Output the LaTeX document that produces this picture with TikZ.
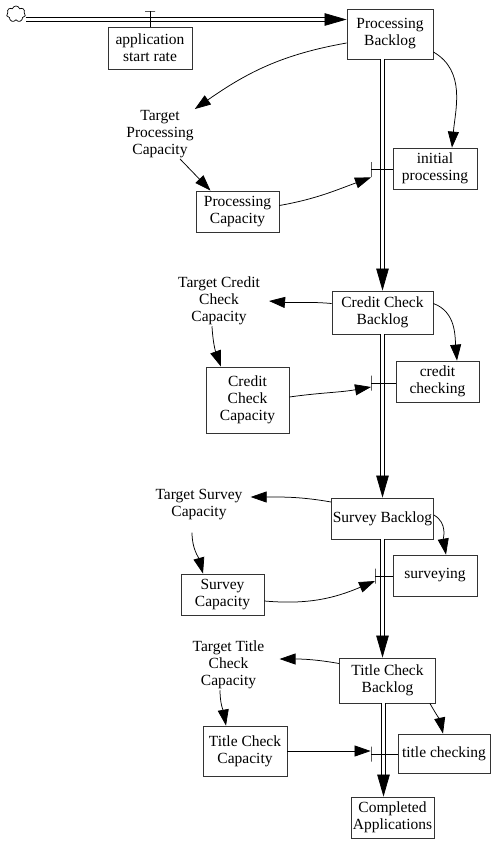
\documentclass[tikz,border=0pt]{standalone}
\usepackage{fontspec}
\setmainfont{Liberation Serif}
\usetikzlibrary{arrows.meta,shapes.symbols}

\begin{document}
\begin{tikzpicture}
      [x=1pt, y=1pt,
      box style/.style={draw=black!80, line width=0.8pt, rectangle, align=center, inner sep=1pt, minimum width=83pt, minimum height=41pt, font=\fontsize{15.5}{17}\selectfont},
      text style/.style={align=center, inner sep=1pt, font=\fontsize{15.5}{17}\selectfont},
      valve style/.style={draw, line width=0.8pt, inner sep=0pt, minimum width=0pt, minimum height=15pt},
      pipe style/.style={draw, double, double distance=3pt, line width=1pt},
      pipe tip/.style={-{Triangle[length=22pt, width=12.5pt]}, line width=0.7pt},
      link style/.style={draw, line width=0.75pt, -{Triangle[length=16pt, width=11pt]}},
      valve line/.style={draw, line width=0.75pt},
      ]
      \useasboundingbox (0,0) rectangle (491,-841);

      \node[cloud, cloud puffs=7, aspect=1.2, draw, line width=0.7pt, minimum width=19pt, minimum height=16pt, inner sep=0pt] (source) at (16,-14) {};
      \node[box style, minimum width=86pt, minimum height=50pt] (pb) at (390,-34) {Processing\\Backlog};
      \node[box style, minimum width=84pt, minimum height=42pt] (asr) at (150,-48) {application\\start rate};
      \node[valve style, minimum width=10pt, minimum height=0pt] (v0) at (150,-11) {};
      \node[text style] (tpc) at (160,-134) {Target\\Processing\\Capacity};
      \node[box style] (pc) at (237.5,-211.5) {Processing\\Capacity};
      \node[box style, minimum width=84pt] (ip) at (435,-168.5) {initial\\processing};
      \node[valve style] (v1) at (371,-169.5) {};

      \node[box style, minimum width=101pt, minimum height=43pt] (cc) at (382.5,-312.5) {Credit Check\\Backlog};
      \node[text style] (tcc) at (219,-301) {Target Credit\\Check\\Capacity};
      \node[box style, minimum height=66pt] (ccc) at (247.5,-400) {Credit\\Check\\Capacity};
      \node[box style] (cch) at (437.5,-381.5) {credit\\checking};
      \node[valve style] (v2) at (371,-383) {};

      \node[box style, minimum width=102pt] (sb) at (382.5,-518.5) {Survey Backlog};
      \node[text style] (tsc) at (199,-505) {Target Survey\\Capacity};
      \node[box style] (svc) at (222.5,-594.5) {Survey\\Capacity};
      \node[box style, minimum width=84pt] (sv) at (435,-575.5) {surveying};
      \node[valve style] (v3) at (375,-576) {};

      \node[box style, minimum width=96pt, minimum height=45pt] (tc) at (387.5,-680.5) {Title Check\\Backlog};
      \node[text style] (ttc) at (228.5,-665) {Target Title\\Check\\Capacity};
      \node[box style, minimum width=84pt, minimum height=50pt] (tcp) at (245,-751) {Title Check\\Capacity};
      \node[box style, minimum width=92pt, minimum height=39pt] (tch) at (444,-753.5) {title checking};
      \node[valve style] (v4) at (371,-754) {};
      \node[box style] (ca) at (392.5,-817.5) {Completed\\Applications};

      % stock flows
      \coordinate (inflow) at ([yshift=14.5pt]pb.west);
      \draw[pipe style, shorten >=12pt] (source.east |- inflow) -- (inflow);
      \draw[pipe tip] ([xshift=-22pt]inflow) -- (inflow);
      \draw[pipe style, shorten >=10pt] (pb.south -| cc.north) -- (cc.north);
      \draw[pipe tip] ([yshift=22pt]cc.north) -- (cc.north);
      \draw[pipe style, shorten >=10pt] (cc.south) -- (sb.north);
      \draw[pipe tip] ([yshift=22pt]sb.north) -- (sb.north);
      \draw[pipe style, shorten >=10pt] (sb.south) -- ([xshift=-5pt]tc.north);
      \draw[pipe tip] ([xshift=-5pt, yshift=22pt]tc.north) -- ([xshift=-5pt]tc.north);
      \draw[pipe style, shorten >=10pt] ([xshift=-4pt]tc.south) -- ([xshift=-9pt]ca.north);
      \draw[pipe tip] ([xshift=-9pt, yshift=22pt]ca.north) -- ([xshift=-9pt]ca.north);

      % valves
      \draw[valve line] (v0) -- (asr.north);
      \draw[valve line] (v1) -- (v1 -| ip.west);
      \draw[valve line] (v2) -- (v2 -| cch.west);
      \draw[valve line] (v3) -- (v3 -| sv.west);
      \draw[valve line] (v4) -- (v4 -| tch.west);

      % links
      \draw[link style] ([yshift=-9pt]pb.west) to[out=190, in=35] (tpc.north east);
      \draw[link style] ([xshift=20pt]tpc.south) -- ([xshift=-27pt]pc.north);
      \draw[link style] ([yshift=6pt]pc.east) to[out=10, in=200] (v1.south);
      \draw[link style] ([yshift=-18pt]pb.east) to[out=-30, in=85] ([xshift=17pt]ip.north);

      \draw[link style] ([yshift=9pt]cc.west) to[out=175, in=-5] ([xshift=8pt]tcc.east);
      \draw[link style] ([xshift=-7pt]tcc.south) to[out=-87, in=110] ([xshift=-26.5pt]ccc.north);
      \draw[link style] ([yshift=3pt]ccc.east) to[out=8, in=190] ([yshift=-4pt]v2.center);
      \draw[link style] ([yshift=9pt]cc.east) to[out=-20, in=95] ([xshift=19.5pt]cch.north);

      \draw[link style] ([yshift=16.5pt]sb.west) to[out=170, in=0] ([xshift=7pt, yshift=8pt]tsc.east);
      \draw[link style] ([xshift=-7pt, yshift=-11pt]tsc.south) to[out=-90, in=105] ([xshift=-19.5pt]svc.north);
      \draw[link style] ([yshift=-6.5pt]svc.east) to[out=-5, in=203] ([yshift=-5pt]v3.center);
      \draw[link style] ([yshift=3.5pt]sb.east) to[out=-30, in=100] ([xshift=11pt]sv.north);

      \draw[link style] ([yshift=17pt]tc.west) to[out=170, in=0] ([xshift=14pt, yshift=6pt]ttc.east);
      \draw[link style] ([xshift=-8.5pt]ttc.south) to[out=-90, in=100] ([xshift=-19pt]tcp.north);
      \draw[link style] (tcp.east) -- (tcp.east -| v4.west);
      \draw[link style] ([xshift=-6pt]tc.south east) to[out=-60, in=102] ([xshift=-1pt]tch.north);
\end{tikzpicture}
\end{document}
